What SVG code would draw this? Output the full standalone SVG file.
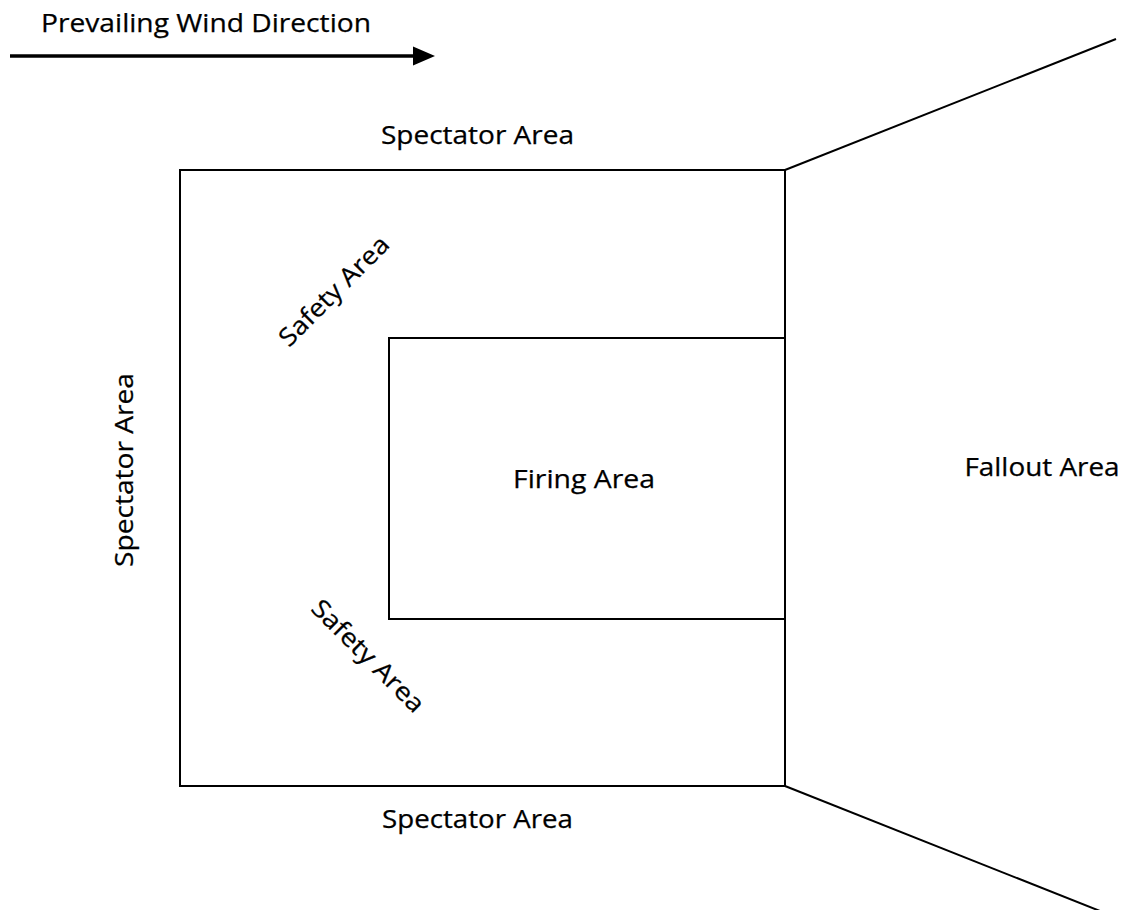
<svg xmlns="http://www.w3.org/2000/svg" width="1128" height="910" viewBox="0 0 1128 910">
<style>
text{font-family:"Open Sans","Noto Sans","Liberation Sans",sans-serif;font-size:25px;fill:#000;stroke:#000;stroke-width:0.25}
.ln{fill:none;stroke:#000;stroke-width:2}
</style>
<defs>
<marker id="ah" markerWidth="8" markerHeight="8" refX="0" refY="4" orient="auto" markerUnits="userSpaceOnUse" viewBox="0 0 8 8" overflow="visible">
<path d="M0,-5.5 L22,4 L0,13.5 Z" fill="#000"/>
</marker>
</defs>
<rect width="1128" height="910" fill="#fff"/>
<g id="wind">
<text x="41" y="32" textLength="330" lengthAdjust="spacingAndGlyphs">Prevailing Wind Direction</text>
<line x1="10" y1="56" x2="413" y2="56" stroke="#000" stroke-width="3.5" marker-end="url(#ah)"/>
</g>
<g id="safety-zone">
<rect class="ln" x="180" y="170" width="605" height="616"/>
</g>
<g id="firing-zone">
<rect class="ln" x="389" y="338" width="396" height="281"/>
<text x="584" y="488" text-anchor="middle" textLength="142" lengthAdjust="spacingAndGlyphs">Firing Area</text>
</g>
<g id="connectors">
<line class="ln" x1="785" y1="170" x2="1116" y2="39" stroke-width="1.6"/>
<line class="ln" x1="785" y1="786" x2="1100" y2="911" stroke-width="1.6"/>
</g>
<g id="labels">
<text x="477.5" y="144" text-anchor="middle" textLength="193" lengthAdjust="spacingAndGlyphs">Spectator Area</text>
<text x="477.5" y="828" text-anchor="middle" textLength="191" lengthAdjust="spacingAndGlyphs">Spectator Area</text>
<text transform="translate(133,470) rotate(-90)" x="0" y="0" text-anchor="middle" textLength="194" lengthAdjust="spacingAndGlyphs">Spectator Area</text>
<text x="1042" y="476" text-anchor="middle" textLength="155" lengthAdjust="spacingAndGlyphs">Fallout Area</text>
<text transform="translate(340,297) rotate(-45)" x="0" y="0" text-anchor="middle" textLength="144" lengthAdjust="spacingAndGlyphs">Safety Area</text>
<text transform="translate(362,662) rotate(45)" x="0" y="0" text-anchor="middle" textLength="148" lengthAdjust="spacingAndGlyphs">Safety Area</text>
</g>
</svg>
